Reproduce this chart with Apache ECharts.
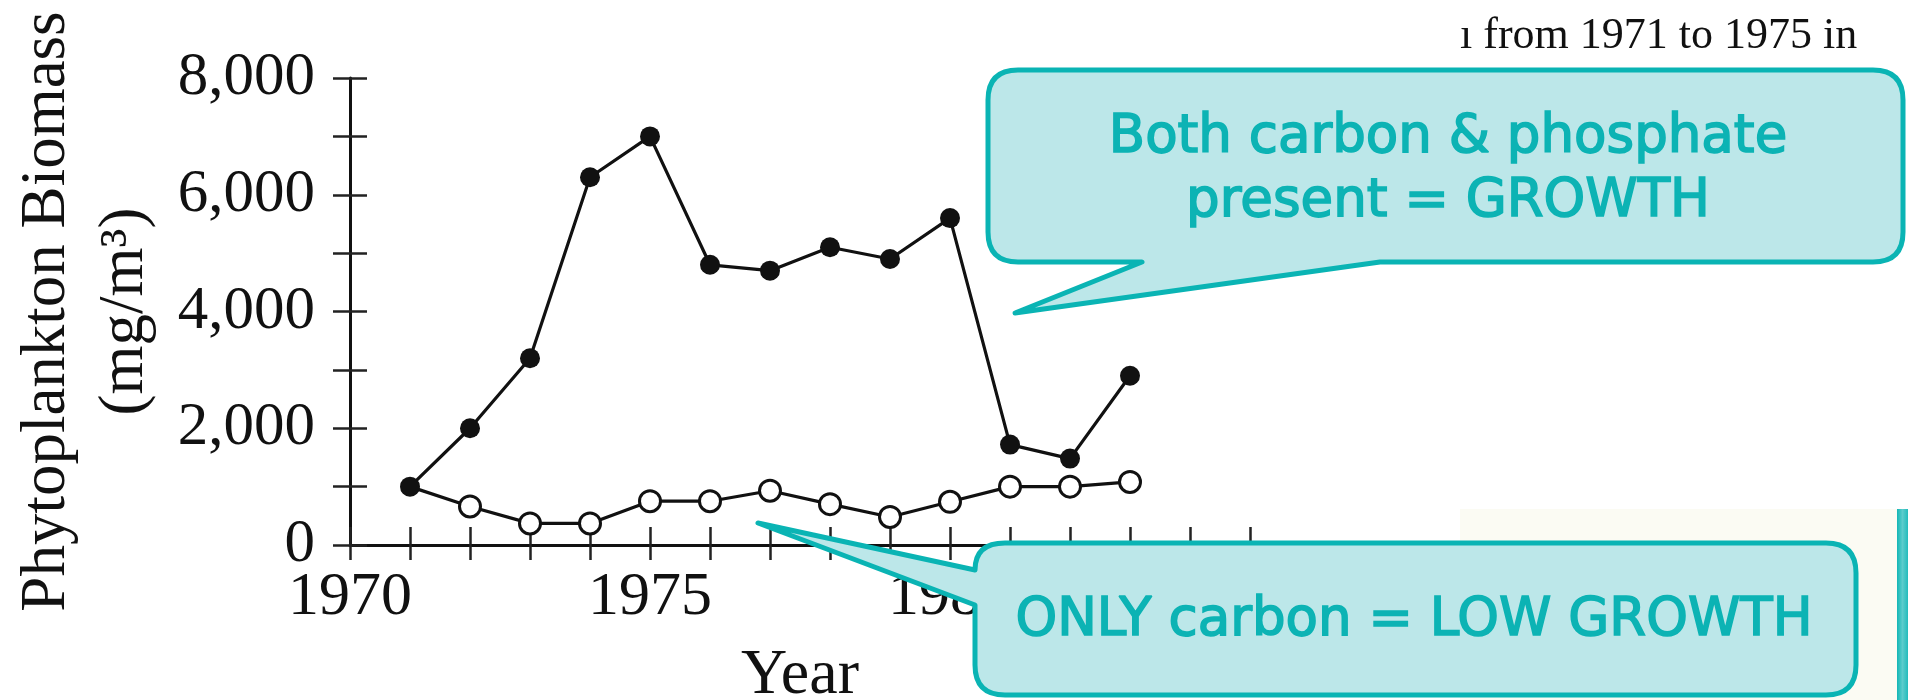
<!DOCTYPE html>
<html>
<head>
<meta charset="utf-8">
<script src="https://cdn.jsdelivr.net/npm/echarts@6/dist/echarts.min.js"></script>
<style>
html,body{margin:0;padding:0;background:#fff;}
#chart{width:1908px;height:700px;}
</style>
</head>
<body>
<div id="chart"></div>
<script>
// ---- data ----
const years = [1971, 1972, 1973, 1974, 1975, 1976, 1977, 1978, 1979, 1980, 1981, 1982, 1983];
const carbonAndPhosphate = [1000, 2000, 3200, 6300, 7000, 4800, 4700, 5100, 4900, 5600, 1720, 1480, 2900];
const onlyCarbon = [1000, 660, 370, 370, 750, 750, 930, 700, 480, 740, 1000, 1000, 1080];
const xTickLabels = ['1970', '1975', '1980', '1985'];
const yTickLabels = ['0', '2,000', '4,000', '6,000', '8,000'];
const yAxisTitle = ['Phytoplankton Biomass', '(mg/m\u00B3)'];
const xAxisTitle = 'Year';
const topText = '\u0131 from 1971 to 1975 in';
const callout1 = ['Both carbon & phosphate', 'present = GROWTH'];
const callout2 = 'ONLY carbon = LOW GROWTH';

const serif = '"Liberation Serif", "Times New Roman", serif';
const sans = '"DejaVu Sans", sans-serif';
const ink = '#111';
const teal = '#0ab4b4';
const tealText = '#0cb3b4';
const tealFill = '#bce7e9';

function xLabel(v) {
  const s = String(v);
  return xTickLabels.indexOf(s) >= 0 ? s : '';
}
function yLabel(v) {
  const s = v.toLocaleString('en-US');
  return yTickLabels.indexOf(s) >= 0 ? s : '';
}

// callout outlines (annotation shapes)
echarts.graphic.registerShape('callout1Shape', echarts.graphic.extendPath(
  'M 1018 70 L 1873 70 Q 1903 70 1903 100 L 1903 232 Q 1903 262 1873 262 L 1380 262 L 1015 313 L 1142 262 L 1018 262 Q 988 262 988 232 L 988 100 Q 988 70 1018 70 Z', {}));
echarts.graphic.registerShape('callout2Shape', echarts.graphic.extendPath(
  'M 1005 543 L 1826 543 Q 1856 543 1856 573 L 1856 665 Q 1856 695 1826 695 L 1005 695 Q 975 695 975 665 L 975 605 L 758 523 L 975 570 Q 975 543 1005 543 Z', {}));

const chart = echarts.init(document.getElementById('chart'), null, {renderer: 'canvas'});

const xBase = {type: 'value', min: 1970, max: 1985, interval: 1, gridIndex: 0, position: 'bottom', splitLine: {show: false}};
const yBase = {type: 'value', min: 0, max: 8000, interval: 1000, gridIndex: 0, position: 'left', splitLine: {show: false}};

const calloutText = {fontFamily: sans, fontSize: 53, fill: tealText, stroke: tealText, lineWidth: 1.6, align: 'center', verticalAlign: 'middle'};

chart.setOption({
  animation: false,
  backgroundColor: '#ffffff',
  grid: {left: 350, top: 78, width: 900, height: 467, containLabel: false, outerBoundsMode: 'none'},
  xAxis: [
    Object.assign({}, xBase, {
      axisLine: {show: true, lineStyle: {color: ink, width: 3}},
      axisTick: {show: true, inside: false, length: 15, lineStyle: {color: '#222', width: 2.5}},
      axisLabel: {show: true, margin: 22, formatter: xLabel, color: ink, fontFamily: serif, fontSize: 62},
      name: xAxisTitle, nameLocation: 'middle', nameGap: 99,
      nameTextStyle: {color: ink, fontFamily: serif, fontSize: 64}
    }),
    Object.assign({}, xBase, {
      axisLine: {show: false},
      axisTick: {show: true, inside: true, length: 18, lineStyle: {color: '#222', width: 2.5}},
      axisLabel: {show: false}
    })
  ],
  yAxis: [
    Object.assign({}, yBase, {
      axisLine: {show: true, lineStyle: {color: ink, width: 3}},
      axisTick: {show: true, inside: false, length: 17, lineStyle: {color: '#222', width: 2.5}},
      axisLabel: {show: true, margin: 35, formatter: yLabel, color: ink, fontFamily: serif, fontSize: 61, padding: [0, 0, 10, 0]},
      name: yAxisTitle.join('\n'), nameLocation: 'middle', nameGap: 186, nameRotate: 90,
      nameTextStyle: {color: ink, fontFamily: serif, fontSize: 63, lineHeight: 78}
    }),
    Object.assign({}, yBase, {
      axisLine: {show: false},
      axisTick: {show: true, inside: true, length: 17, lineStyle: {color: '#222', width: 2.5}},
      axisLabel: {show: false}
    })
  ],
  series: [
    {
      name: 'Only carbon', type: 'line', xAxisIndex: 0, yAxisIndex: 0, z: 3,
      data: years.map((y, i) => i === 0 ? {value: [y, onlyCarbon[i]], symbol: 'none'} : [y, onlyCarbon[i]]),
      symbol: 'circle', symbolSize: 21, showAllSymbol: true,
      lineStyle: {color: ink, width: 3.2},
      itemStyle: {color: '#ffffff', borderColor: ink, borderWidth: 3}
    },
    {
      name: 'Carbon and phosphate', type: 'line', xAxisIndex: 0, yAxisIndex: 0, z: 4,
      data: years.map((y, i) => [y, carbonAndPhosphate[i]]),
      symbol: 'circle', symbolSize: 20, showAllSymbol: true,
      lineStyle: {color: ink, width: 3.2},
      itemStyle: {color: ink, borderColor: ink, borderWidth: 0}
    }
  ],
  graphic: [
    {type: 'rect', z: 50, shape: {x: 1460, y: 509, width: 437, height: 191}, style: {fill: '#fbfbf3'}},
    {type: 'rect', z: 50, shape: {x: 1897, y: 509, width: 11, height: 191},
      style: {fill: new echarts.graphic.LinearGradient(0, 0, 1, 0, [
        {offset: 0, color: '#12b6b6'}, {offset: 0.5, color: '#5ccccc'}, {offset: 1, color: '#22bcbc'}])}},
    {type: 'callout1Shape', z: 60, style: {fill: tealFill, stroke: teal, lineWidth: 5, lineJoin: 'round'}},
    {type: 'callout2Shape', z: 60, style: {fill: tealFill, stroke: teal, lineWidth: 5, lineJoin: 'round'}},
    {type: 'text', z: 70, x: 1448, y: 138, style: Object.assign({text: callout1[0]}, calloutText)},
    {type: 'text', z: 70, x: 1448, y: 202, style: Object.assign({text: callout1[1]}, calloutText)},
    {type: 'text', z: 70, x: 1414, y: 621, style: Object.assign({text: callout2}, calloutText)},
    {type: 'text', z: 70, x: 1460, y: 36,
      style: {text: topText, fontFamily: serif, fontSize: 44, fill: ink, align: 'left', verticalAlign: 'middle'}}
  ]
});
</script>
</body>
</html>
